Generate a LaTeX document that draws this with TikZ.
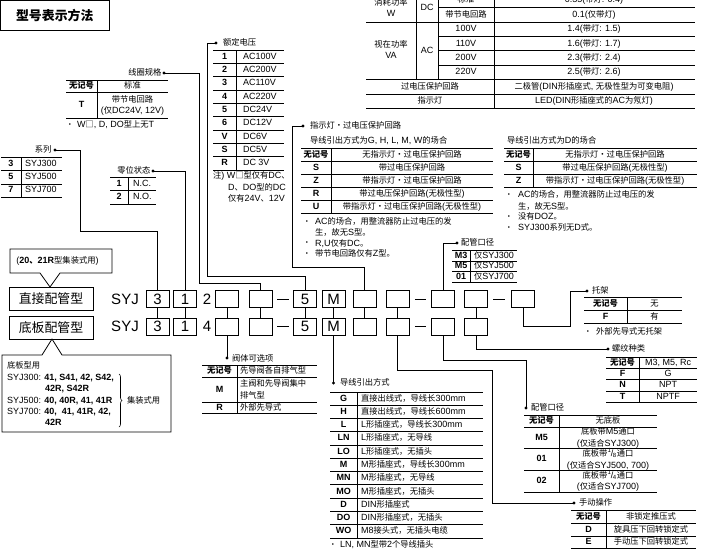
\documentclass[tikz,border=0pt]{standalone}
\usepackage{fontspec}
\setmainfont{Liberation Sans}
\newfontfamily\cjkf[Scale=0.92]{Noto Sans CJK SC}
\usetikzlibrary{decorations.pathreplacing}
\XeTeXinterchartokenstate=1
\chardef\cjkcls=9
\newcount\cjkcc
\newcommand\cjkrange[2]{\cjkcc=#1\relax\loop\XeTeXcharclass\cjkcc=\cjkcls\relax\ifnum\cjkcc<#2\relax\advance\cjkcc by 1\relax\repeat}
\cjkrange{"4E00}{"9FFF}
\cjkrange{"3000}{"303F}
\cjkrange{"FF00}{"FFEF}
\XeTeXcharclass"25A1=\cjkcls
\XeTeXcharclass"30FB=\cjkcls
\XeTeXinterchartoks 0 \cjkcls={\cjkf}
\XeTeXinterchartoks 4095 \cjkcls={\cjkf}
\XeTeXinterchartoks \cjkcls 0={\rmfamily}
\XeTeXinterchartoks \cjkcls 4095={\rmfamily}
\tikzset{
  tx/.style={inner sep=0pt, outer sep=0pt, font=\fontsize{9}{11}\selectfont, text height=6.5pt, text depth=1.5pt},
  lab/.style={tx, anchor=west},
  labE/.style={tx, anchor=east},
  cod/.style={tx, font=\fontsize{9}{11}\selectfont\bfseries},
  valL/.style={tx, anchor=west},
  val/.style={tx},
  vtwo/.style={inner sep=0pt, outer sep=0pt, font=\fontsize{9}{11.5}\selectfont, align=center},
  vtwoL/.style={inner sep=0pt, outer sep=0pt, font=\fontsize{9}{12}\selectfont, align=left, anchor=west},
  bul/.style={inner sep=0pt, outer sep=0pt, font=\fontsize{6}{6}\selectfont},
  rule/.style={line width=0.8pt},
  conn/.style={line width=0.7pt},
  cbox/.style={draw, line width=0.9pt, minimum width=23pt, minimum height=17pt, inner sep=0pt, font=\fontsize{15}{15}\selectfont},
  big/.style={inner sep=0pt, outer sep=0pt, font=\fontsize{15}{15}\selectfont},
  kind/.style={draw, line width=0.9pt, minimum width=84pt, minimum height=23pt, inner sep=0pt, font=\fontsize{14}{14}\selectfont},
  dsh/.style={line width=0.8pt},
}
\begin{document}
\begin{tikzpicture}[x=1pt,y=-1pt]
\useasboundingbox (0,0) rectangle (708,554);
% title
\node[draw, line width=0.8pt, minimum width=108.5pt, minimum height=29.5pt, inner sep=0pt, font=\fontsize{14}{14}\selectfont\bfseries] (title) at (54.75,15.25) {型号表示方法};

% ---------- top right power table ----------
\foreach \y in {22,79,94,108} \draw[rule] (366,\y) -- (695,\y);
\foreach \y in {7.3,36,50.7,65} \draw[rule] (438,\y) -- (695,\y);
\draw[rule] (416,-8) -- (416,79);
\draw[rule] (438,-8) -- (438,79);
\draw[rule] (494,-8) -- (494,108);
\node[vtwo, font=\fontsize{9}{11}\selectfont] (pw1) at (391,7.5) {消耗功率\\W};
\node[vtwo, font=\fontsize{9}{11}\selectfont] (pw2) at (391,49.5) {视在功率\\VA};
\node[val] (pw3) at (427,8) {DC};
\node[val] (pw4) at (427,51) {AC};
\node[val] (pw5) at (466,0) {标准};
\node[val] (pw6) at (594,0) {0.35(带灯: 0.4)};
\node[val] (pw7) at (466,15) {带节电回路};
\node[val] (pw8) at (594,15) {0.1(仅带灯)};
\node[val] (pw9) at (466,29) {100V};
\node[val] (pw10) at (594,29) {1.4(带灯: 1.5)};
\node[val] (pw11) at (466,43.5) {110V};
\node[val] (pw12) at (594,43.5) {1.6(带灯: 1.7)};
\node[val] (pw13) at (466,58) {200V};
\node[val] (pw14) at (594,58) {2.3(带灯: 2.4)};
\node[val] (pw15) at (466,72) {220V};
\node[val] (pw16) at (594,72) {2.5(带灯: 2.6)};
\node[val] (pw17) at (430,87) {过电压保护回路};
\node[val] (pw18) at (594,87) {二极管(DIN形插座式, 无极性型为可变电阻)};
\node[val] (pw19) at (430,101) {指示灯};
\node[val] (pw20) at (594,101) {LED(DIN形插座式的AC为氖灯)};

% ---------- 系列 ----------
\coordinate (d1) at (55,150);
\node[labE] (l1) at (51.5,150) {系列};
\foreach \y in {157,170.5,184,197} \draw[rule] (1,\y) -- (62,\y);
\draw[rule] (21,157) -- (21,197);
\foreach \c/\v [count=\i] in {3/SYJ300,5/SYJ500,7/SYJ700}{
  \node[cod] (s\i) at (11,{157+13.33*(\i-0.5)}) {\c};
  \node[valL] (sv\i) at (25,{157+13.33*(\i-0.5)}) {\v};}

% ---------- 零位状态 ----------
\coordinate (d2) at (153,171);
\node[labE] (l2) at (150.5,171) {零位状态};
\foreach \y in {177,190.5,204} \draw[rule] (110,\y) -- (156,\y);
\draw[rule] (128,177) -- (128,204);
\node[cod] (z1) at (119,183.75) {1}; \node[valL] (zv1) at (133,183.75) {N.C.};
\node[cod] (z2) at (119,197.25) {2}; \node[valL] (zv2) at (133,197.25) {N.O.};

% ---------- 线圈规格 ----------
\coordinate (d3) at (164,73);
\node[labE] (l3) at (161.5,73) {线圈规格};
\foreach \y in {80,92,118} \draw[rule] (66,\y) -- (168,\y);
\draw[rule] (97,80) -- (97,118);
\node[cod] (c1) at (81.5,86) {无记号};
\node[val] (cv1) at (132.5,86) {标准};
\node[cod] (c2) at (81.5,105) {T};
\node[vtwo, font=\fontsize{9}{11}\selectfont] (cv2) at (132.5,105.5) {带节电回路\\(仅DC24V, 12V)};
\node[bul] (cb) at (70,125) {•};
\node[valL] (cn) at (77,125) {W□, D, DO型上无T};

% ---------- 额定电压 ----------
\coordinate (d4) at (216,43);
\node[lab] (l4) at (223,43) {额定电压};
\foreach \i in {0,...,9} \draw[rule] (213,{50+13.33*\i}) -- (284,{50+13.33*\i});
\draw[rule] (236,50) -- (236,170);
\foreach \c/\v [count=\i] in {1/AC100V,2/AC200V,3/AC110V,4/AC220V,5/DC24V,6/DC12V,V/DC6V,S/DC5V,R/DC 3V}{
  \node[cod] (r\i) at (224.5,{50+13.33*(\i-0.5)}) {\c};
  \node[valL] (rv\i) at (243,{50+13.33*(\i-0.5)}) {\v};}
\node[valL] (vn1) at (213,176) {注) W□型仅有DC、};
\node[valL] (vn2) at (228,188) {D、DO型的DC};
\node[valL] (vn3) at (228,199) {仅有24V、12V};

% ---------- 指示灯·过电压保护回路 ----------
\coordinate (d5) at (303,126);
\node[lab] (l5) at (310,126) {指示灯・过电压保护回路};
\node[lab] (l5b) at (310,141) {导线引出方式为G, H, L, M, W的场合};
\foreach \i in {0,...,5} \draw[rule] (301,{148+13*\i}) -- (493,{148+13*\i});
\draw[rule] (331,148) -- (331,213);
\foreach \c/\v [count=\i] in {无记号/无指示灯・过电压保护回路,S/带过电压保护回路,Z/带指示灯・过电压保护回路,R/带过电压保护回路(无极性型),U/带指示灯・过电压保护回路(无极性型)}{
  \node[cod] (g\i) at (316,{148+13*(\i-0.5)}) {\c};
  \node[val] (gv\i) at (412,{148+13*(\i-0.5)}) {\v};}
\node[bul] (gb1) at (307,222) {•};
\node[valL] (gn1) at (315,222) {AC的场合，用整流器防止过电压的发};
\node[valL] (gn2) at (315,233) {生，故无S型。};
\node[bul] (gb3) at (307,243.5) {•};
\node[valL] (gn3) at (315,243.5) {R,U仅有DC。};
\node[bul] (gb4) at (307,254) {•};
\node[valL] (gn4) at (315,254) {带节电回路仅有Z型。};

% ---------- D type ----------
\node[lab] (l6) at (507,141) {导线引出方式为D的场合};
\foreach \i in {0,...,3} \draw[rule] (504,{148+13*\i}) -- (697,{148+13*\i});
\draw[rule] (533,148) -- (533,187);
\foreach \c/\v [count=\i] in {无记号/无指示灯・过电压保护回路,S/带过电压保护回路(无极性型),Z/带指示灯・过电压保护回路(无极性型)}{
  \node[cod] (k\i) at (518.5,{148+13*(\i-0.5)}) {\c};
  \node[val] (kv\i) at (615,{148+13*(\i-0.5)}) {\v};}
\node[bul] (kb1) at (509,195) {•};
\node[valL] (kn1) at (518,195) {AC的场合，用整流器防止过电压的发};
\node[valL] (kn2) at (518,206.5) {生，故无S型。};
\node[bul] (kb3) at (509,217) {•};
\node[valL] (kn3) at (518,217) {没有DOZ。};
\node[bul] (kb4) at (509,228) {•};
\node[valL] (kn4) at (518,228) {SYJ300系列无D式。};

% ---------- 配管口径 (top) ----------
\coordinate (d6) at (457,243);
\node[lab] (l7) at (461,243) {配管口径};
\foreach \y in {250,261,271.5,282} \draw[rule] (452,\y) -- (517,\y);
\draw[rule] (470,250) -- (470,282);
\foreach \c/\v/\y [count=\i] in {M3/仅SYJ300/255.5,M5/仅SYJ500/266.25,01/仅SYJ700/276.75}{
  \node[cod] (p\i) at (461,\y) {\c};
  \node[valL] (pv\i) at (474,\y) {\v};}

% ---------- 托架 ----------
\coordinate (d7) at (587,291);
\node[lab] (l8) at (592,291) {托架};
\foreach \y in {297,310.5,323} \draw[rule] (584,\y) -- (682,\y);
\draw[rule] (627,297) -- (627,323);
\node[cod] (t1) at (605.5,303.75) {无记号}; \node[val] (tv1) at (654.5,303.75) {无};
\node[cod] (t2) at (605.5,316.75) {F}; \node[val] (tv2) at (654.5,316.75) {有};
\node[bul] (tb) at (588,332) {•};
\node[valL] (tn) at (596,332) {外部先导式无托架};

% ---------- 螺纹种类 ----------
\coordinate (d12) at (608,349);
\node[lab] (l9) at (612,349) {螺纹种类};
\foreach \y in {357,368,379.5,391,402} \draw[rule] (606,\y) -- (697,\y);
\draw[rule] (639,357) -- (639,402);
\node[cod] (x1) at (622.5,362.5) {无记号}; \node[val] (xv1) at (668,362.5) {M3, M5, Rc};
\node[cod] (x2) at (622.5,373.75) {F}; \node[val] (xv2) at (668,373.75) {G};
\node[cod] (x3) at (622.5,385.25) {N}; \node[val] (xv3) at (668,385.25) {NPT};
\node[cod] (x4) at (622.5,396.5) {T}; \node[val] (xv4) at (668,396.5) {NPTF};

% ---------- 配管口径 (bottom) ----------
\coordinate (d11) at (526,408);
\node[lab] (l10) at (531,408) {配管口径};
\foreach \y in {415,427,448.5,470,492} \draw[rule] (524,\y) -- (657,\y);
\draw[rule] (559,415) -- (559,492);
\node[cod] (q1) at (541.5,421) {无记号}; \node[val] (qv1) at (608,421) {无底板};
\node[cod] (q2) at (541.5,437.75) {M5}; \node[vtwo, font=\fontsize{9}{11.5}\selectfont] (qv2) at (608,437.75) {底板带M5通口\\(仅适合SYJ300)};
\node[cod] (q3) at (541.5,459.25) {01}; \node[vtwo] (qv3) at (608,459.25) {底板带\textsuperscript{1}\kern-0.05em/\kern-0.05em\textsubscript{8}通口\\(仅适合SYJ500, 700)};
\node[cod] (q4) at (541.5,481) {02}; \node[vtwo] (qv4) at (608,481) {底板带\textsuperscript{1}\kern-0.05em/\kern-0.05em\textsubscript{4}通口\\(仅适合SYJ700)};

% ---------- 手动操作 ----------
\coordinate (d10) at (574,503);
\node[lab] (l11) at (579,503) {手动操作};
\foreach \y in {510,523,536,548} \draw[rule] (571,\y) -- (696,\y);
\draw[rule] (606,510) -- (606,548);
\foreach \c/\v/\y [count=\i] in {无记号/非锁定推压式/516.5,D/旋具压下回转锁定式/529.5,E/手动压下回转锁定式/542}{
  \node[cod] (m\i) at (588.5,\y) {\c};
  \node[val] (mv\i) at (651,\y) {\v};}

% ---------- 阀体可选项 ----------
\coordinate (d8) at (227,358);
\node[lab] (l12) at (232,359) {阀体可选项};
\foreach \y in {365,377,402,413} \draw[rule] (202,\y) -- (317,\y);
\draw[rule] (237,365) -- (237,413);
\node[cod] (o1) at (219.5,371) {无记号}; \node[valL] (ov1) at (240,371) {先导阀各自排气型};
\node[cod] (o2) at (219.5,389.5) {M}; \node[vtwoL] (ov2) at (240,389.5) {主阀和先导阀集中\\排气型};
\node[cod] (o3) at (219.5,407.5) {R}; \node[valL] (ov3) at (240,407.5) {外部先导式};

% ---------- 导线引出方式 ----------
\coordinate (d9) at (333.5,383);
\node[lab] (l13) at (340,383) {导线引出方式};
\foreach \i in {0,...,11} \draw[rule] (330,{392+13.27*\i}) -- (483,{392+13.27*\i});
\draw[rule] (357,392) -- (357,538);
\foreach \c/\v [count=\i] in {G/直接出线式，导线长300mm,H/直接出线式，导线长600mm,L/L形插座式，导线长300mm,LN/L形插座式，无导线,LO/L形插座式，无插头,M/M形插座式，导线长300mm,MN/M形插座式，无导线,MO/M形插座式，无插头,D/DIN形插座式,DO/DIN形插座式，无插头,WO/M8接头式，无插头电缆}{
  \node[cod] (e\i) at (343.5,{392+13.27*(\i-0.5)}) {\c};
  \node[valL] (ev\i) at (361,{392+13.27*(\i-0.5)}) {\v};}
\node[bul] (eb) at (333,545) {•};
\node[valL] (en) at (340,545) {LN, MN型带2个导线插头};

% ---------- left: kinds ----------
\draw[line width=0.8pt, fill=white] (10,249) -- (112,249) -- (112,273) -- (60,273) -- (50,287) -- (40,273) -- (10,273) -- cycle;
\node[val] (call1) at (57.5,261) {(\textbf{20、21R}型集装式用)};
\node[kind] (k1) at (51,298.5) {直接配管型};
\node[kind] (k2) at (51,328) {底板配管型};
\draw[line width=0.8pt] (2,355) -- (42,355) -- (52,339) -- (62,355) -- (171,355) -- (171,432) -- (2,432) -- cycle;
\node[valL] (bc1) at (7,366) {底板型用};
\node[valL] (bc2) at (7,378) {SYJ300: \textbf{41, S41, 42, S42,}};
\node[valL] (bc3) at (45,389) {\textbf{42R, S42R}};
\node[valL] (bc4) at (7,400.5) {SYJ500: \textbf{40, 40R, 41, 41R}};
\node[valL] (bc5) at (7,412) {SYJ700: \textbf{40,\ \ 41, 41R, 42,}};
\node[valL] (bc6) at (45,423) {\textbf{42R}};
\draw[line width=0.6pt, decorate, decoration={brace, amplitude=3pt}] (119,374) -- (119,427);
\node[valL] (bc7) at (127,400.5) {集装式用};

% ---------- main code rows ----------
\node[big] (syj1) at (125,299) {SYJ};
\node[big] (syj2) at (125,326.5) {SYJ};
\node[big] (n2) at (207,299) {2};
\node[big] (n4) at (207,326.5) {4};
\foreach \n/\x/\t in {3/157.5/3,1/185/1,4/227/,5/260.5/,6/305/5,7/333.5/M,8/364.5/,9/397.5/,10/443/,11/476/,12/523/}
  \node[cbox] (a\n) at (\x,299) {\t};
\foreach \n/\x/\t in {3/157.5/3,1/185/1,4/227/,5/260.5/,6/305/5,7/333.5/M,8/364.5/,9/397.5/,10/443/,11/476/}
  \node[cbox] (b\n) at (\x,326.5) {\t};
\draw[dsh] ([xshift=5pt]a5.east) -- ([xshift=-4.5pt]a6.west);
\draw[dsh] ([xshift=5.5pt]a9.east) -- ([xshift=-5pt]a10.west);
\draw[dsh] ([xshift=5.5pt]a11.east) -- ([xshift=-6.5pt]a12.west);
\draw[dsh] ([xshift=5pt]b5.east) -- ([xshift=-4.5pt]b6.west);
\draw[dsh] ([xshift=5.5pt]b9.east) -- ([xshift=-5pt]b10.west);
\foreach \n in {3,1,4,5,6,7,8,9,11} \draw[conn] (a\n.south) -- (b\n.north);

% ---------- connectors ----------
\draw[conn] (d1) -| (80,231) -| (a3.north);
\draw[conn] (d2) -| (a1.north);
\draw[conn] (d3) -| (199,283) -| (a5.north);
\draw[conn] (d4) -| (207,276) -| (a6.north);
\draw[conn] (d5) -| (292,267) -| (a8.north);
\draw[conn] (a10.north) |- (d6);
\draw[conn] (a12.south) |- (570,326) |- (d7);
\draw[conn] (b4.south) -- (d8);
\draw[conn] (b7.south) -- (d9);
\draw[conn] (b9.south) |- (492,370) |- (d10);
\draw[conn] (b10.south) |- (526,360) -- (d11);
\draw[conn] (b11.south) |- (d12);
\foreach \d in {d1,d2,d3,d4,d5,d6,d7,d8,d9,d10,d11,d12} \fill (\d) circle (1.6);
\end{tikzpicture}
\end{document}
